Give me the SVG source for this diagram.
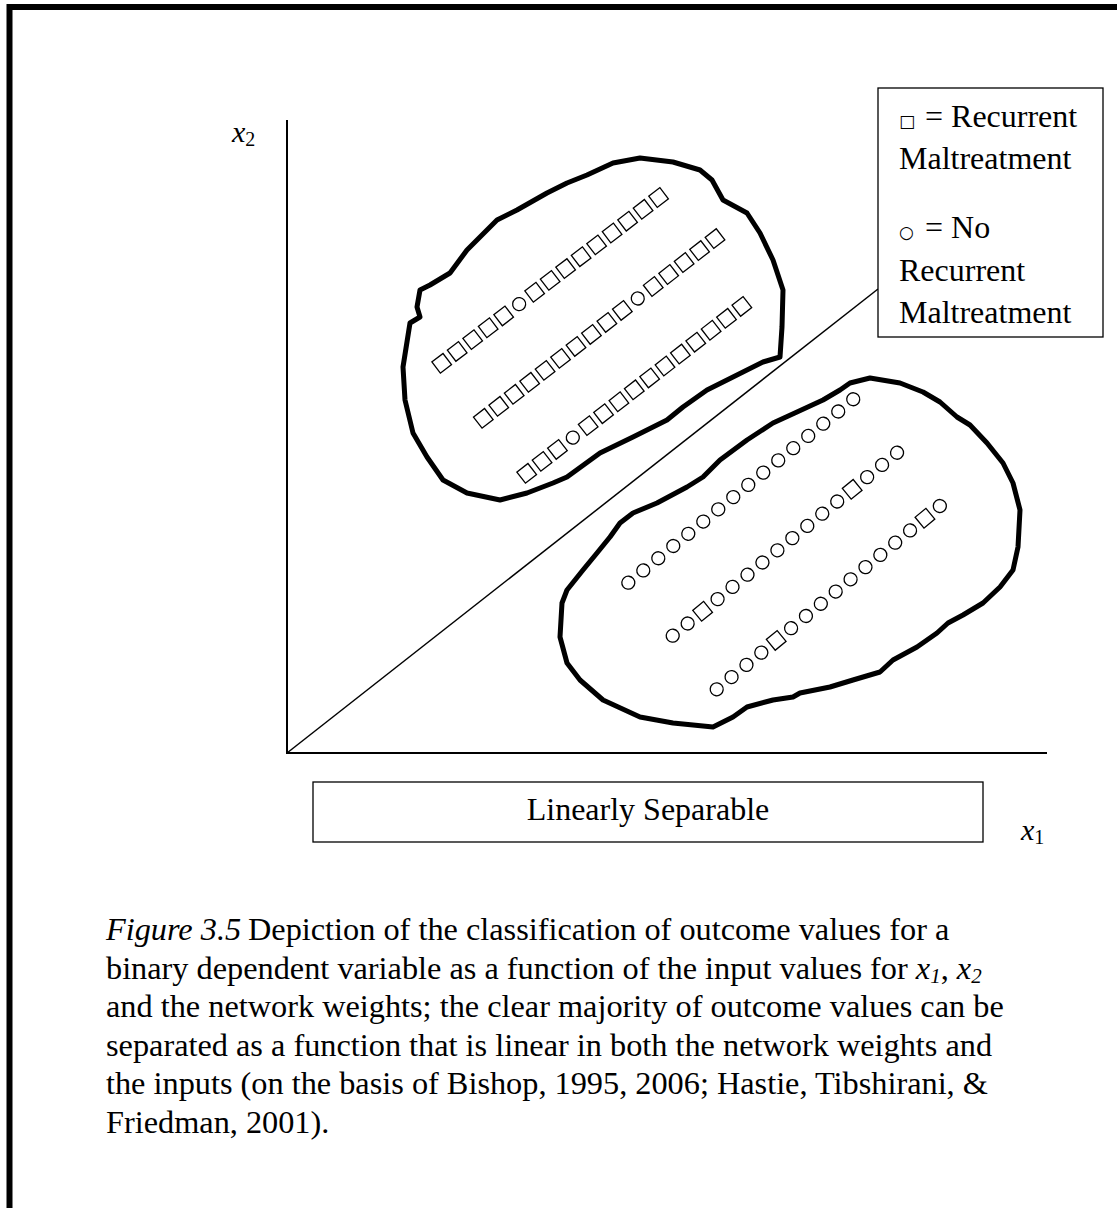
<svg xmlns="http://www.w3.org/2000/svg" xmlns:xlink="http://www.w3.org/1999/xlink" width="1117" height="1208" viewBox="0 0 1117 1208">
  <style>
    .serif { font-family: "Liberation Serif", "Times New Roman", serif; font-size: 32px; fill: #000; }
    .cap { font-size: 32.3px; }
    .it { font-style: italic; }
    .sym { font-family: "DejaVu Sans", sans-serif; font-size: 17px; }
    .blob { fill: none; stroke: #000; stroke-width: 5; stroke-linejoin: round; stroke-linecap: round; }
    .pt { fill: none; stroke: #000; stroke-width: 1.3; }
    .axis { stroke: #000; stroke-width: 2; fill: none; }
    .box { fill: #fff; stroke: #000; stroke-width: 1.3; }
  </style>
  <defs>
    <rect id="sq" class="pt" x="-7" y="-7" width="14" height="14"/>
    <circle id="ci" class="pt" r="6.5"/>
  </defs>

  <rect width="1117" height="1208" fill="#fff"/>
  <!-- page frame (top and left edges only) -->
  <path d="M9.5 1208 V7 H1117" fill="none" stroke="#000" stroke-width="6" stroke-linejoin="miter"/>

  <!-- axes and separating line -->
  <g id="connectors">
    <path class="axis" d="M287 120 V754"/>
    <path class="axis" d="M286 753 H1047"/>
    <path d="M287 753 L878 289" stroke="#000" stroke-width="1.5" fill="none"/>
  </g>

  <g id="axis-x2">
    <text class="serif" y="142"><tspan x="232" class="it" font-size="30">x</tspan><tspan font-size="20" dy="4">2</tspan></text>
  </g>
  <g id="axis-x1">
    <text class="serif" y="840"><tspan x="1021" class="it" font-size="30">x</tspan><tspan font-size="20" dy="4">1</tspan></text>
  </g>

  <!-- cluster: recurrent maltreatment -->
  <g id="cluster-recurrent">
    <path class="blob" d="M613 163 L640 158 L673 162 L700 170 L712 180 L723 200 L747 213 L760 233 L773 260 L783 290 L782 327 L780 357 L763 362 L733 377 L707 390 L683 407 L667 420 L633 437 L600 453 L567 477 L553 483 L527 493 L500 500 L467 493 L443 480 L427 457 L413 433 L405 400 L403 367 L410 323 L420 317 L417 307 L420 290 L430 285 L450 273 L467 250 L497 220 L517 210 L547 193 L567 183 L587 175 Z"/>
    <g transform="translate(441.7 363.3) rotate(-37.4)">
      <use href="#sq" x="0"/><use href="#sq" x="19.5"/><use href="#sq" x="39"/><use href="#sq" x="58.5"/><use href="#sq" x="78"/>
      <use href="#ci" x="97.5"/>
      <use href="#sq" x="117"/><use href="#sq" x="136.5"/><use href="#sq" x="156"/><use href="#sq" x="175.5"/><use href="#sq" x="195"/><use href="#sq" x="214.5"/><use href="#sq" x="234"/><use href="#sq" x="253.5"/><use href="#sq" x="273"/>
    </g>
    <g transform="translate(483.3 418.3) rotate(-37.8)">
      <use href="#sq" x="0"/><use href="#sq" x="19.55"/><use href="#sq" x="39.1"/><use href="#sq" x="58.65"/><use href="#sq" x="78.2"/><use href="#sq" x="97.75"/><use href="#sq" x="117.3"/><use href="#sq" x="136.85"/><use href="#sq" x="156.4"/><use href="#sq" x="175.95"/>
      <use href="#ci" x="195.5"/>
      <use href="#sq" x="215.05"/><use href="#sq" x="234.6"/><use href="#sq" x="254.15"/><use href="#sq" x="273.7"/><use href="#sq" x="293.25"/>
    </g>
    <g transform="translate(526.7 473.3) rotate(-37.8)">
      <use href="#sq" x="0"/><use href="#sq" x="19.45"/><use href="#sq" x="38.9"/>
      <use href="#ci" x="58.35"/>
      <use href="#sq" x="77.8"/><use href="#sq" x="97.25"/><use href="#sq" x="116.7"/><use href="#sq" x="136.15"/><use href="#sq" x="155.6"/><use href="#sq" x="175.05"/><use href="#sq" x="194.5"/><use href="#sq" x="213.95"/><use href="#sq" x="233.4"/><use href="#sq" x="252.85"/><use href="#sq" x="272.3"/>
    </g>
  </g>

  <!-- cluster: no recurrent maltreatment -->
  <g id="cluster-no-recurrent">
    <path class="blob" d="M850 383 L870 378 L900 383 L923 392 L940 402 L957 417 L970 425 L987 443 L1003 463 L1013 483 L1020 510 L1018 547 L1013 570 L1000 587 L983 603 L963 615 L948 623 L937 633 L917 647 L893 660 L880 672 L853 680 L830 687 L800 693 L793 697 L773 700 L747 707 L733 717 L713 727 L673 723 L640 717 L603 700 L580 680 L567 663 L560 637 L562 603 L567 590 L583 570 L597 553 L610 537 L620 523 L633 513 L657 503 L687 487 L703 477 L720 460 L747 440 L773 423 L797 412 L823 400 L840 390 Z"/>
    <g transform="translate(628.3 582.7) rotate(-39.2)">
      <use href="#ci" x="0"/><use href="#ci" x="19.35"/><use href="#ci" x="38.7"/><use href="#ci" x="58.05"/><use href="#ci" x="77.4"/><use href="#ci" x="96.75"/><use href="#ci" x="116.1"/><use href="#ci" x="135.45"/><use href="#ci" x="154.8"/><use href="#ci" x="174.15"/><use href="#ci" x="193.5"/><use href="#ci" x="212.85"/><use href="#ci" x="232.2"/><use href="#ci" x="251.55"/><use href="#ci" x="270.9"/><use href="#ci" x="290.25"/>
    </g>
    <g transform="translate(672.7 635.7) rotate(-39.2)">
      <use href="#ci" x="0"/><use href="#ci" x="19.3"/>
      <use href="#sq" x="38.6"/>
      <use href="#ci" x="57.9"/><use href="#ci" x="77.2"/><use href="#ci" x="96.5"/><use href="#ci" x="115.8"/><use href="#ci" x="135.1"/><use href="#ci" x="154.4"/><use href="#ci" x="173.7"/><use href="#ci" x="193"/><use href="#ci" x="212.3"/>
      <use href="#sq" x="231.6"/>
      <use href="#ci" x="250.9"/><use href="#ci" x="270.2"/><use href="#ci" x="289.5"/>
    </g>
    <g transform="translate(716.7 689.3) rotate(-39.4)">
      <use href="#ci" x="0"/><use href="#ci" x="19.25"/><use href="#ci" x="38.5"/><use href="#ci" x="57.75"/>
      <use href="#sq" x="77"/>
      <use href="#ci" x="96.25"/><use href="#ci" x="115.5"/><use href="#ci" x="134.75"/><use href="#ci" x="154"/><use href="#ci" x="173.25"/><use href="#ci" x="192.5"/><use href="#ci" x="211.75"/><use href="#ci" x="231"/><use href="#ci" x="250.25"/>
      <use href="#sq" x="269.5"/>
      <use href="#ci" x="288.75"/>
    </g>
  </g>

  <!-- legend -->
  <g id="legend">
    <rect class="box" x="878" y="88" width="225" height="249"/>
    <text class="serif" y="127"><tspan x="899" class="sym">□</tspan> <tspan x="925">= Recurrent</tspan></text>
    <text class="serif" x="899" y="169">Maltreatment</text>
    <text class="serif" y="238"><tspan x="899" class="sym">○</tspan> <tspan x="925">= No</tspan></text>
    <text class="serif" x="899" y="281">Recurrent</text>
    <text class="serif" x="899" y="323">Maltreatment</text>
  </g>

  <!-- panel title -->
  <g id="title-box">
    <rect class="box" x="313" y="782" width="670" height="60"/>
    <text class="serif" x="648" y="820" text-anchor="middle">Linearly Separable</text>
  </g>

  <!-- caption -->
  <g id="caption">
    <text class="serif cap" y="940"><tspan x="106" class="it">Figure 3.5</tspan> <tspan x="248">Depiction of the classification of outcome values for a</tspan></text>
    <text class="serif cap" x="106" y="978.5">binary dependent variable as a function of the input values for <tspan class="it">x</tspan><tspan class="it" font-size="21" dy="4">1</tspan><tspan dy="-4">, </tspan><tspan class="it">x</tspan><tspan class="it" font-size="21" dy="4">2</tspan></text>
    <text class="serif cap" x="106" y="1017">and the network weights; the clear majority of outcome values can be</text>
    <text class="serif cap" x="106" y="1055.5">separated as a function that is linear in both the network weights and</text>
    <text class="serif cap" x="106" y="1094">the inputs (on the basis of Bishop, 1995, 2006; Hastie, Tibshirani, &amp;</text>
    <text class="serif cap" x="106" y="1132.5">Friedman, 2001).</text>
  </g>
</svg>
